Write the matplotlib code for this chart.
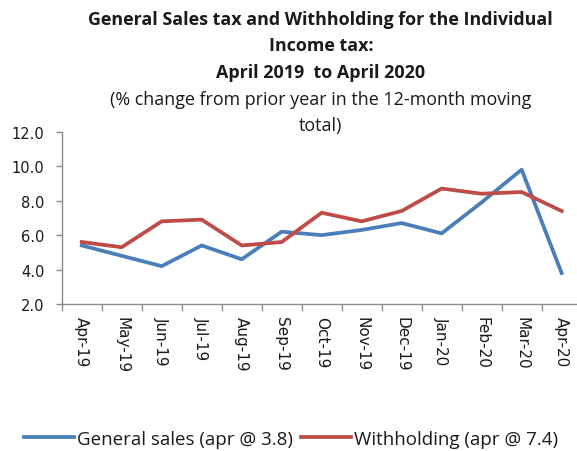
import matplotlib
matplotlib.use("Agg")
import matplotlib.pyplot as plt
from matplotlib.lines import Line2D

plt.rcParams['font.family'] = ['Open Sans', 'DejaVu Sans']

months = ["Apr-19", "May-19", "Jun-19", "Jul-19", "Aug-19", "Sep-19", "Oct-19",
          "Nov-19", "Dec-19", "Jan-20", "Feb-20", "Mar-20", "Apr-20"]
general_sales = [5.4, 4.8, 4.2, 5.4, 4.6, 6.2, 6.0, 6.3, 6.7, 6.1, 7.9, 9.8, 3.8]
withholding = [5.6, 5.3, 6.8, 6.9, 5.4, 5.6, 7.3, 6.8, 7.4, 8.7, 8.4, 8.5, 7.4]
y_ticks = [2.0, 4.0, 6.0, 8.0, 10.0, 12.0]

blue = "#4A7EBB"
red = "#BE4B48"
axis_gray = "#8C8C8C"
text_color = "#1a1a1a"
tick_font = ["DejaVu Sans"]

fig = plt.figure(figsize=(5.77, 4.52), dpi=100)
ax = fig.add_axes([0.107, 0.325, 0.901, 0.3815])

x = list(range(len(months)))
ax.plot(x, general_sales, color=blue, lw=2.7, solid_joinstyle="round")
ax.plot(x, withholding, color=red, lw=2.7, solid_joinstyle="round")

ax.set_xlim(-0.5, len(months) - 0.5)
ax.set_ylim(2.0, 12.0)

# category boundaries carry the tick marks, centres carry the labels
ax.set_xticks([i - 0.5 for i in range(len(months) + 1)])
ax.set_xticklabels([])
ax.set_xticks(x, minor=True)
ax.set_xticklabels(months, minor=True, rotation=270, fontsize=11,
                   color=text_color, family=tick_font)
ax.tick_params(axis="x", which="major", length=5, width=1, color=axis_gray, direction="out")
ax.tick_params(axis="x", which="minor", length=0, pad=8.5)

ax.set_yticks(y_ticks)
ax.set_yticklabels([f"{v:.1f}" for v in y_ticks], fontsize=10.5,
                   color=text_color, family=tick_font)
ax.tick_params(axis="y", length=4.5, width=1, color=axis_gray, direction="out", pad=8)

for side in ("top", "right"):
    ax.spines[side].set_visible(False)
for side in ("left", "bottom"):
    ax.spines[side].set_color(axis_gray)
    ax.spines[side].set_linewidth(1)

cx = 0.556
title_lines = [
    (20, "General Sales tax and Withholding for the Individual", "bold"),
    (46, "Income tax:", "bold"),
    (73, "April 2019  to April 2020", "bold"),
    (100, "(% change from prior year in the 12-month moving", "normal"),
    (126, "total)", "normal"),
]
for ypix, line, weight in title_lines:
    fig.text(cx, 1 - ypix / 452, line, ha="center", va="center",
             fontsize=12.9, fontweight=weight, color=text_color)

handles = [Line2D([], [], color=blue, lw=2.7), Line2D([], [], color=red, lw=2.7)]
labels = ["General sales (apr @ 3.8)", "Withholding (apr @ 7.4)"]
fig.legend(handles, labels, loc="center", bbox_to_anchor=(0.505, 1 - 440 / 452),
           ncol=2, frameon=False, fontsize=13.5, handlelength=2.67,
           handletextpad=0.16, columnspacing=0.43, labelcolor=text_color)

fig.savefig("out.png", dpi=100, facecolor="white")
